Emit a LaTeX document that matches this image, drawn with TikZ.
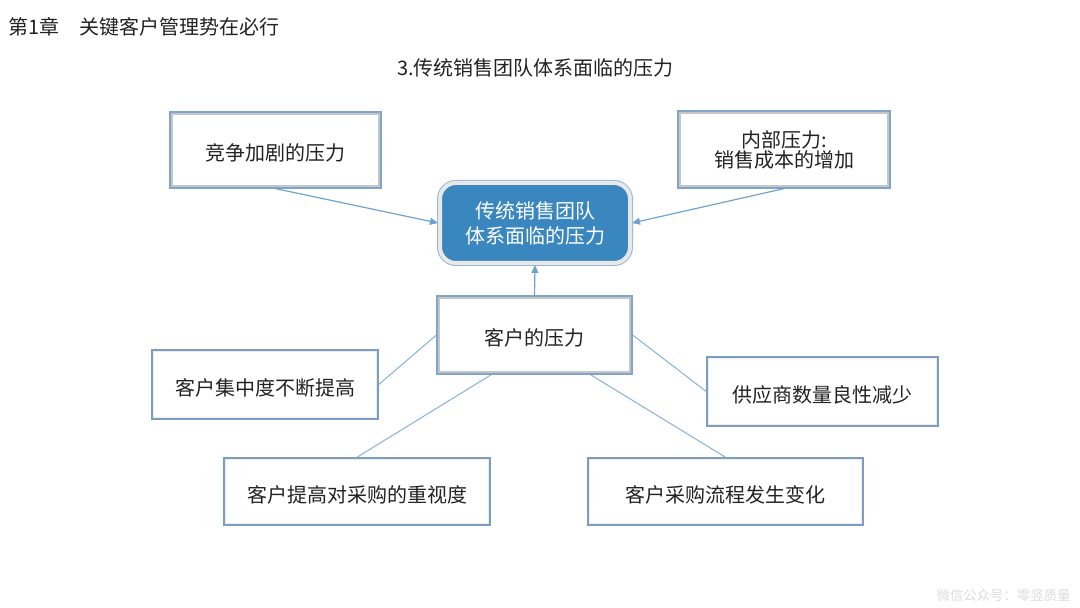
\documentclass[tikz,border=0pt]{standalone}
\usepackage{fontspec}
\setmainfont{Noto Sans CJK SC}
\usetikzlibrary{positioning,calc,arrows.meta}
\definecolor{edgeblue}{HTML}{7FA5C8}
\definecolor{leafblue}{HTML}{7B9DC0}
\definecolor{linkblue}{HTML}{6FA3CF}
\definecolor{corefill}{HTML}{3A86BE}
\definecolor{inkgray}{HTML}{222222}
\newcommand\boxstrut{\rule{0pt}{11.8pt}}

\begin{document}
\begin{tikzpicture}[x=0.5pt,y=-0.5pt,
  font=\fontsize{10pt}{11.5pt}\selectfont,text=inkgray,
  box/.style={draw=edgeblue,line width=0.6pt,fill=white,inner sep=0pt,align=center,
    execute at begin node=\boxstrut,
    path picture={\draw[line width=3pt,gray!45](path picture bounding box.south west)rectangle(path picture bounding box.north east);}},
  leaf/.style={draw=leafblue,line width=0.75pt,fill=white,inner sep=0pt,align=center,
    execute at begin node=\boxstrut,
    path picture={\draw[line width=2pt,gray!15](path picture bounding box.south west)rectangle(path picture bounding box.north east);}},
  core/.style={fill=corefill,draw=gray!18,line width=2pt,rounded corners=8pt,text=white,
    align=center,inner sep=0pt,minimum width=95pt,minimum height=40pt,
    execute at begin node=\boxstrut,
    preaction={draw=edgeblue!80,line width=3pt}},
  arr/.style={-{Triangle[length=4pt,width=3.5pt]},linkblue,line width=0.6pt},
  link/.style={linkblue!85,line width=0.5pt}]
\useasboundingbox (0,0) rectangle (1080,608);
% headings
\node[anchor=west,inner sep=0pt] (t) at (8,27) {第1章\quad 关键客户管理势在必行};
\node[inner sep=0pt] (s) at (535.5,68) {3.传统销售团队体系面临的压力};
% centre and pressures
\node[core,font=\fontsize{10pt}{12.5pt}\selectfont] (0) at (535,223) {传统销售团队\\体系面临的压力};
\node[box,minimum width=105.5pt,minimum height=38pt] (1) at (275.5,150) {竞争加剧的压力};
\node[box,minimum width=106pt,minimum height=38.5pt,font=\fontsize{10pt}{10pt}\selectfont] (2) at (784,149.5) {内部压力:\\销售成本的增加};
\node[box,minimum width=97.5pt,minimum height=39pt] (3) at (534.5,335) {客户的压力};
% customer side
\node[leaf,minimum width=113pt,minimum height=34.5pt] (4) at (265,384.5) {客户集中度不断提高};
\node[leaf,minimum width=115.5pt,minimum height=34.5pt] (5) at (822.5,391.5) {供应商数量良性减少};
\node[leaf,minimum width=133pt,minimum height=33.5pt] (6) at (357,491.5) {客户提高对采购的重视度};
\node[leaf,minimum width=137.5pt,minimum height=33.5pt] (7) at (725.5,491.5) {客户采购流程发生变化};
\node[anchor=east,inner sep=0pt,text=gray!28,font=\fontsize{6.7pt}{8pt}\selectfont] (8) at (1071,595) {微信公众号：零竖质量};
\draw[arr](1.south)to (0.west);
\draw[arr](2.south)to (0.east);
\draw[arr](3.north)to (0.south);
\draw[link](3.west)to (4.east);
\draw[link](3.east)to (5.west);
\draw[link]($(3.south west)!0.28!(3.south east)$)to (6.north);
\draw[link]($(3.south west)!0.785!(3.south east)$)to (7.north);
\end{tikzpicture}
\end{document}
